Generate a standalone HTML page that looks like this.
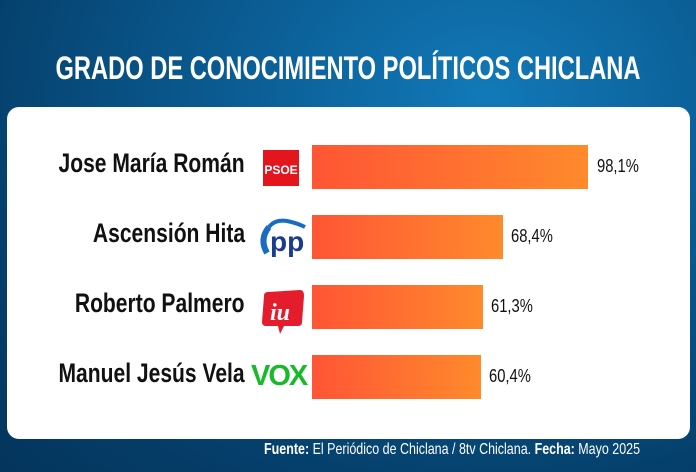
<!DOCTYPE html>
<html><head><meta charset="utf-8"><style>
body{margin:0;width:696px;height:472px;overflow:hidden;font-family:"Liberation Sans Narrow","Liberation Sans",sans-serif;}
.bg{position:absolute;left:0;top:0;width:696px;height:472px;background:radial-gradient(ellipse at 70% 20%,#1279b8 0%,#0a5a90 40%,#053f6b 75%,#04355c 100%);}
.t{position:absolute;left:-100px;width:896px;top:50px;text-align:center;color:#fff;font-size:32px;font-weight:bold;white-space:nowrap;transform:scaleX(0.74);}
.card{position:absolute;left:7px;top:107px;width:683px;height:332px;background:#fff;border-radius:12px;}
.n{position:absolute;right:451px;font-size:27px;font-weight:bold;color:#111;white-space:nowrap;transform:scaleX(0.78);transform-origin:right center;}
.bar{position:absolute;left:312px;height:44px;background:linear-gradient(90deg,#ff5535,#ff8a2c);}
.v{position:absolute;font-size:18px;color:#111;transform:scaleX(0.82);transform-origin:left center;}
.f{position:absolute;top:441px;right:56px;color:#fff;font-size:16px;transform:scaleX(0.78);transform-origin:right center;white-space:nowrap;}
</style></head><body>
<div class="bg"></div>
<div class="t">GRADO DE CONOCIMIENTO POLÍTICOS CHICLANA</div>
<div class="card"></div>
<div class="n" style="top:148px">Jose María Román</div>
<div class="n" style="top:218px">Ascensión Hita</div>
<div class="n" style="top:288px">Roberto Palmero</div>
<div class="n" style="top:358px">Manuel Jesús Vela</div>
<div style="position:absolute;left:263px;top:150px;width:36px;height:36px;background:#e3161d;color:#fff;font:bold 12px 'Liberation Sans';text-align:center;line-height:40px">PSOE</div>
<svg style="position:absolute;left:255px;top:215px" width="52" height="44"><path d="M14 12 Q20 4 32 6 Q42 8 50 12" stroke="#1a6cc2" stroke-width="4" fill="none"/><path d="M14 12 Q4 24 12 38" stroke="#1a6cc2" stroke-width="6" fill="none"/><text x="15" y="36" font-family="Liberation Sans" font-weight="bold" font-size="28" fill="#1a3c8c">pp</text></svg>
<svg style="position:absolute;left:260px;top:288px" width="44" height="48"><path d="M8 4 L40 2 Q44 2 44 8 L42 34 Q42 38 38 38 L24 38 L20 46 L18 38 L6 38 Q2 38 2 34 L4 8 Q4 4 8 4Z" fill="#e41c2c"/><text x="10" y="32" font-family="Liberation Serif" font-style="italic" font-weight="bold" font-size="24" fill="#fff">iu</text></svg>
<div style="position:absolute;left:251px;top:360px;color:#19b92c;font:bold 29px 'Liberation Sans';letter-spacing:-2px;">VOX</div>
<div class="bar" style="top:145px;width:276px"></div>
<div class="bar" style="top:215px;width:191px"></div>
<div class="bar" style="top:285px;width:171px"></div>
<div class="bar" style="top:355px;width:169px"></div>
<div class="v" style="left:597px;top:156px">98,1%</div>
<div class="v" style="left:511px;top:226px">68,4%</div>
<div class="v" style="left:491px;top:296px">61,3%</div>
<div class="v" style="left:489px;top:366px">60,4%</div>
<div class="f"><b>Fuente:</b> El Periódico de Chiclana / 8tv Chiclana. <b>Fecha:</b> Mayo 2025</div>
</body></html>
